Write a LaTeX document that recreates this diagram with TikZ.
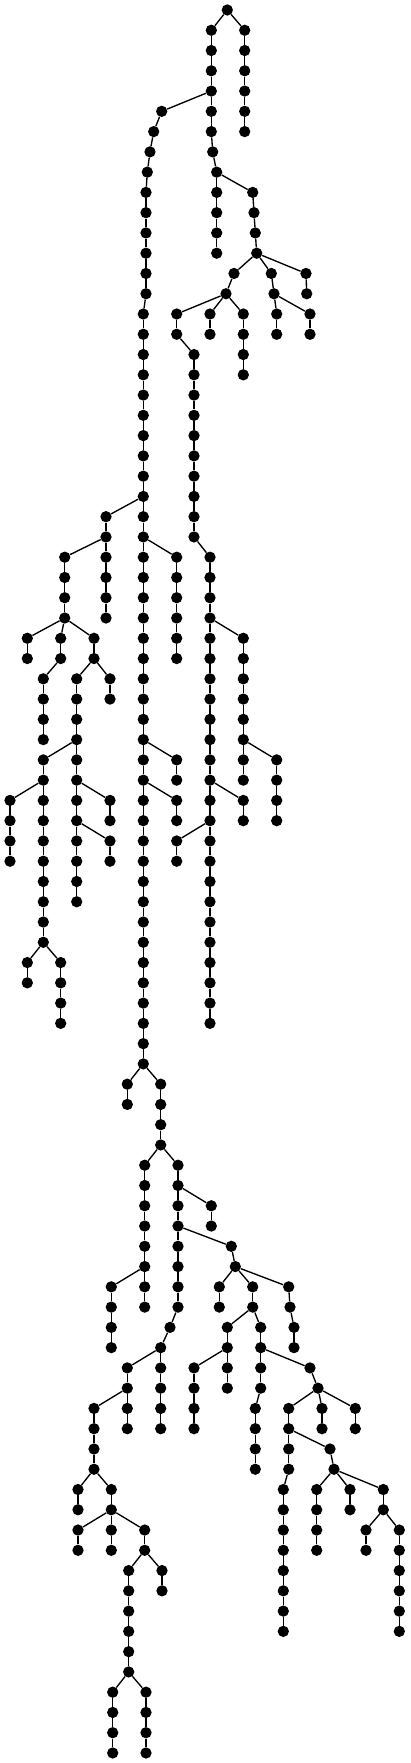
\documentclass[tikz,border=0pt]{standalone}
\usepackage{tikz}
\tikzset{
  vertex/.style={circle, fill=black, draw=none, inner sep=0pt, minimum size=11.3pt},
  branch/.style={draw=black, line width=1.35pt}
}
\begin{document}
\begin{tikzpicture}[x=1pt, y=1pt]
    \useasboundingbox (0,0) rectangle (410,-1763);
    \node[vertex] (root) at (227.3,-10) {};
    % prefix / x / first level / last level / parent
    \foreach \pre/\xx/\from/\to/\up in {
        a/211.3/1/6/root, b/212.7/7/7/a6, c/216.7/8/12/b7, d/244.7/1/6/root,
        e/161.7/5/5/a4, f/153.7/6/6/e5, g/150/7/7/f6, h/147.3/8/8/g7,
        i/146/9/14/h8, j/143.3/15/52/i14,
        k/252.7/9/9/c8, l/254/10/10/k9, m/255.3/11/11/l10, n/256.7/12/12/m11,
        o/234/13/13/n12, p/271.3/13/13/n12, q/306/13/13/n12, r/306.7/14/14/q13,
        s/274/14/14/p13, t/276.7/15/16/s14, u/310/15/16/s14,
        v/226/14/14/o13, w/176.7/15/16/v14, x/210/15/16/v14, y/243.3/15/18/v14,
        z/194/17/26/w16, aa/210/27/50/z26, ab/243.3/31/38/aa30, ac/276.7/37/40/ab36,
        ad/243.3/39/40/aa38, ae/176.7/41/42/aa40,
        af/106/25/30/j24, ag/64.7/27/30/af26, ah/27.3/31/32/ag30, ai/60.7/31/32/ag30,
        aj/43.3/33/36/ai32, ak/94/31/32/ag30, al/76.7/33/44/ak32, am/110/33/34/ak32,
        an/43.3/37/46/al36, ao/10/39/42/an38, ap/110/39/40/al38, aq/110/41/42/al40,
        ar/27.3/47/48/an46, as/60.7/47/50/an46,
        at/176.7/27/32/j26, au/176.7/37/38/j36, av/176.7/39/40/j38,
        aw/127.3/53/54/j52, ax/160.7/53/56/j52, ay/144.7/57/64/ax56, az/178/57/64/ax56,
        ba/111.3/63/66/ay62, bb/211.3/59/60/az58, bc/231.3/61/61/az60, bd/235.3/62/62/bc61,
        be/170/65/65/az64, bf/160.7/66/70/be65, bg/127.3/67/70/bf66, bh/94/69/72/bg68,
        bi/78/73/74/bh72, bj/111.3/73/74/bh72, bk/78/75/76/bj74, bl/111.3/75/76/bj74,
        bm/144.7/75/76/bj74, bn/128.7/77/82/bm76, bo/162/77/78/bm76,
        bp/112.7/83/86/bn82, bq/146/83/86/bn82,
        br/219.3/63/64/bd62, bs/252.7/63/64/bd62, bt/288.7/63/63/bd62, bu/290/64/64/bt63,
        bv/294/65/66/bu64, bw/227.3/65/68/bs64, bx/260.7/65/68/bs64, by/194/67/70/bw66,
        bz/255.3/69/72/bx68, ca/310/67/67/bx66, cb/318/68/68/ca67, cc/288.7/69/72/cb68,
        cd/322/69/70/cb68, ce/355.3/69/70/cb68, cf/283.3/73/80/cc72, cg/330/71/71/cc70,
        ch/334/72/72/cg71, ci/316.7/73/76/ch72, cj/350/73/74/ch72, ck/383.3/73/74/ch72,
        cl/366/75/76/ck74, cm/399.3/75/80/ck74}
    {
        \xdef\last{\up}
        \foreach \lvl in {\from,...,\to} {
            \node[vertex] (\pre\lvl) at (\xx,{-10-20.267*\lvl}) {};
            \draw[branch] (\last) -- (\pre\lvl);
            \xdef\last{\pre\lvl}
        }
    }
\end{tikzpicture}
\end{document}
